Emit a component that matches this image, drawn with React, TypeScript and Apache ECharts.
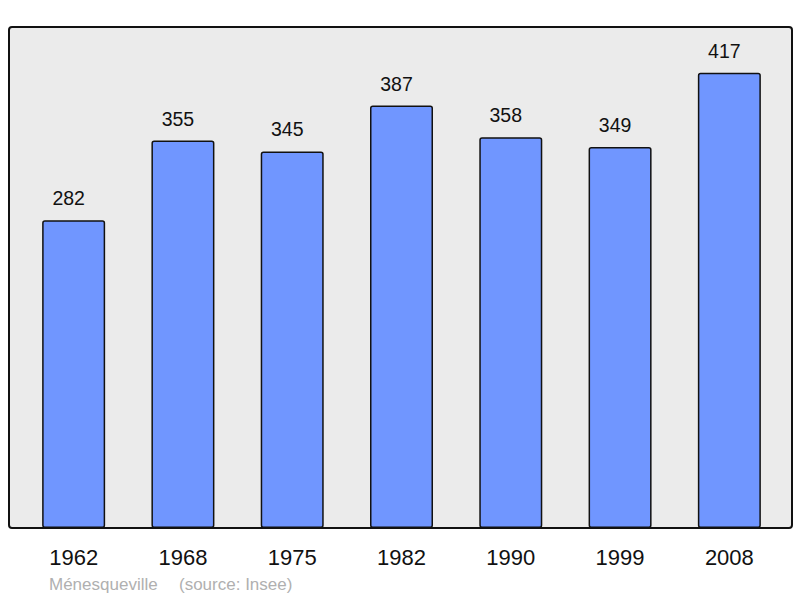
import React, { useEffect, useRef } from "react";
import * as echarts from "echarts";

const years = ["1962", "1968", "1975", "1982", "1990", "1999", "2008"];
const population = [282, 355, 345, 387, 358, 349, 417];
const commune = "Ménesqueville";
const source = "(source: Insee)";

export default function App() {
  const ref = useRef<HTMLDivElement>(null);
  useEffect(() => {
    if (!ref.current) return;
    const chart = echarts.init(ref.current, null, { renderer: "svg" });
    const font = "'Liberation Sans', Arial, sans-serif";
    chart.setOption({
      animation: false,
      backgroundColor: "#ffffff",
      grid: { left: 19, right: 16, top: 27, bottom: 70, containLabel: false },
      xAxis: {
        type: "category",
        data: years,
        axisLine: { show: false },
        axisTick: { show: false },
        axisLabel: { color: "#111", fontSize: 22, fontFamily: font, margin: 18 },
      },
      yAxis: {
        type: "value",
        min: 0,
        max: 459,
        show: false,
        splitLine: { show: false },
      },
      graphic: [
        {
          type: "rect",
          z: -10,
          shape: { x: 9, y: 27, width: 783, height: 501, r: 3 },
          style: { fill: "#ebebeb", stroke: "#111", lineWidth: 2 },
          silent: true,
        },
        {
          type: "text",
          x: 49,
          y: 584,
          style: { text: commune, fill: "#b0b0b0", fontSize: 17, fontFamily: font, verticalAlign: "middle" },
        },
        {
          type: "text",
          x: 179,
          y: 584,
          style: { text: source, fill: "#b0b0b0", fontSize: 17, fontFamily: font, verticalAlign: "middle" },
        },
      ],
      series: [
        {
          type: "bar",
          data: population,
          barWidth: 63,
          itemStyle: { color: "#7096ff", borderColor: "#111", borderWidth: 1.5, borderRadius: 2 },
          label: {
            show: true,
            position: "top",
            distance: 12,
            offset: [-5, 0],
            color: "#111",
            fontSize: 19.5,
            fontFamily: font,
          },
        },
      ],
    });
    return () => chart.dispose();
  }, []);
  return <div ref={ref} style={{ position: "absolute", left: 0, top: 0, width: 800, height: 598 }} />;
}
